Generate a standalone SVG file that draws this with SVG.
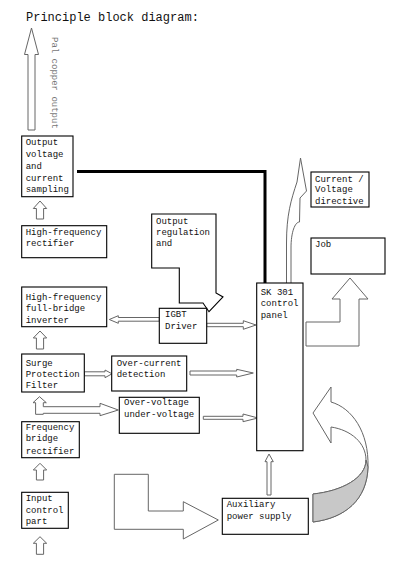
<svg xmlns="http://www.w3.org/2000/svg" width="403" height="567" viewBox="0 0 403 567">
<style>
.box{fill:#fff;stroke:#000;stroke-width:1.1}
.t{font-family:"Liberation Mono","Courier New",monospace;font-size:9px;fill:#111}
.title{font-family:"Liberation Mono","Courier New",monospace;font-size:12px;fill:#111}
.side{font-family:"Liberation Mono","Courier New",monospace;font-size:9px;fill:#777}
.ha{fill:#fff;stroke:#666;stroke-width:1}
.thick{fill:none;stroke:#000;stroke-width:3}
</style>
<rect width="403" height="567" fill="#fff"/>
<text class="title" x="26" y="21">Principle block diagram:</text>
<text class="side" transform="translate(52,37) rotate(90)">Pal copper output</text>

<g id="connectors">
  <polyline class="thick" points="77,171.5 265,171.5 265,283"/>
  <!-- vertical hollow arrows -->
  <path class="ha" d="M28,130 L28,54.5 L24.5,54.5 L31.5,28 L38.5,54.5 L35,54.5 L35,130 Z"/>
  <path class="ha" d="M36.4,219 L36.4,208.5 L33.3,208.5 L40,201 L46.7,208.5 L43.6,208.5 L43.6,219 Z"/>
  <path class="ha" d="M36.4,349 L36.4,338 L33.3,338 L40,331 L46.7,338 L43.6,338 L43.6,349 Z"/>
  <path class="ha" d="M35.6,414.3 L35.6,402.7 L33,402.7 L39.5,396.7 L46.3,402.7 L43.3,402.7 L43.3,406.7 L100,406.7 L100,403.3 L118.3,410 L100,415.7 L100,413.3 L43.3,413.3 L43.3,414.3 Z"/>
  <path class="ha" d="M36.4,480 L36.4,470 L33.3,470 L40,463.3 L46.7,470 L43.6,470 L43.6,480 Z"/>
  <path class="ha" d="M36.4,554.3 L36.4,543.3 L33.3,543.3 L40,536.7 L46.7,543.3 L43.6,543.3 L43.6,554.3 Z"/>
  <path class="ha" d="M267,495 L267,461.7 L265,461.7 L269,454 L273.3,461.7 L271,461.7 L271,495 Z"/>
  <!-- horizontal hollow arrows -->
  <path class="ha" d="M84.3,371.8 L105,371.8 L105,370 L112,373.8 L105,377.7 L105,375.8 L84.3,375.8 Z"/>
  <path class="ha" d="M190,371 L236.7,371 L236.7,369.3 L253.3,373 L236.7,377 L236.7,375 L190,375 Z"/>
  <path class="ha" d="M203.3,416.3 L243,416.3 L243,414 L258,418 L243,421.7 L243,419.3 L203.3,419.3 Z"/>
  <path class="ha" d="M206.7,323.3 L243.3,323.3 L243.3,320.7 L256,325 L243.3,329.3 L243.3,326.7 L206.7,326.7 Z"/>
  <path class="ha" d="M159.3,317.5 L118.3,317.5 L118.3,315.7 L109.3,319.5 L118.3,323.3 L118.3,321.2 L159.3,321.2 Z"/>
  <!-- curved arrow from panel to current/voltage directive -->
  <path class="ha" d="M286.5,283 L286.5,243 C286.5,215 291,200 297,182 L300.5,158 L306.5,191 L300,198 L299.5,222 C295,222 291,232 291,248 L291,283"/>
  <!-- L arrow panel to Job -->
  <path class="ha" d="M306,322 L340,322 L340,299 L332,299 L350,278 L368,299 L359,299 L359,346 L306,346 Z"/>
  <!-- big L arrow to auxiliary -->
  <path class="ha" d="M114.3,474.3 L148.3,474.3 L148.3,511 L183.3,511 L183.3,501.7 L218.3,520 L183.3,539 L183.3,529.3 L114.3,529.3 Z"/>
  <!-- curved return arrow -->
  <path class="ha" d="M313,413 L331,387 L331,402 C352,408 369,432 368,467 C367,500 345,518 313,522 L313,494 C342,491 366,478 366,460 C366,443 351,430 331,427 L331,443 Z"/>
  <path d="M366,460 C366,478 342,491 313,494 L313,522 C345,518 367,500 368,467 Z" fill="#c8c8c8" stroke="#666" stroke-width="1"/>
</g>

<g id="output-sampling">
  <rect class="box" x="21.7" y="136" width="51.3" height="60.7"/>
  <text class="t" x="25.7" y="145.3">Output</text>
  <text class="t" x="25.7" y="157">voltage</text>
  <text class="t" x="25.7" y="168.8">and</text>
  <text class="t" x="25.7" y="180.6">current</text>
  <text class="t" x="25.7" y="192.4">sampling</text>
</g>
<g id="hf-rectifier">
  <rect class="box" x="21.7" y="225.7" width="85" height="32"/>
  <text class="t" x="25.7" y="234.5">High-frequency</text>
  <text class="t" x="25.7" y="246">rectifier</text>
</g>
<g id="hf-inverter">
  <rect class="box" x="21.7" y="287" width="85" height="39.7"/>
  <text class="t" x="25.7" y="299.5">High-frequency</text>
  <text class="t" x="25.7" y="311">full-bridge</text>
  <text class="t" x="25.7" y="322.5">inverter</text>
</g>
<g id="surge">
  <rect class="box" x="21.7" y="354" width="62.6" height="38"/>
  <text class="t" x="25.7" y="365.5">Surge</text>
  <text class="t" x="25.7" y="376.8">Protection</text>
  <text class="t" x="25.7" y="388">Filter</text>
</g>
<g id="freq-bridge">
  <rect class="box" x="21.7" y="421.7" width="57.6" height="36"/>
  <text class="t" x="25.7" y="429.5">Frequency</text>
  <text class="t" x="25.7" y="441">bridge</text>
  <text class="t" x="25.7" y="453.5">rectifier</text>
</g>
<g id="input-control">
  <rect class="box" x="21.7" y="492.3" width="46.6" height="36"/>
  <text class="t" x="25.7" y="500.5">Input</text>
  <text class="t" x="25.7" y="512.5">control</text>
  <text class="t" x="25.7" y="524.3">part</text>
</g>
<g id="output-regulation">
  <path class="box" d="M151.7,214 L216,214 L216,293 L223,297 L209,311.7 L203,303 L179.3,303 L179.3,268 L151.7,268 Z"/>
  <text class="t" x="156" y="224">Output</text>
  <text class="t" x="156" y="235">regulation</text>
  <text class="t" x="156" y="246">and</text>
</g>
<g id="igbt-driver">
  <rect class="box" x="159.3" y="308.3" width="47.4" height="35"/>
  <text class="t" x="165" y="316.7">IGBT</text>
  <text class="t" x="165" y="329">Driver</text>
</g>
<g id="over-current">
  <rect class="box" x="111.7" y="356" width="75" height="35"/>
  <text class="t" x="116.7" y="365.7">Over-current</text>
  <text class="t" x="116.7" y="376.7">detection</text>
</g>
<g id="over-voltage">
  <rect class="box" x="119.3" y="397.3" width="80" height="36"/>
  <text class="t" x="124" y="405.3">Over-voltage</text>
  <text class="t" x="124" y="417">under-voltage</text>
</g>
<g id="control-panel">
  <rect class="box" x="256.7" y="283" width="46.3" height="167.7"/>
  <text class="t" x="260.7" y="294.5">SK 301</text>
  <text class="t" x="260.7" y="306">control</text>
  <text class="t" x="260.7" y="317.5">panel</text>
</g>
<g id="current-voltage">
  <rect class="box" x="311" y="172" width="58" height="35"/>
  <text class="t" x="315" y="181.5">Current /</text>
  <text class="t" x="315" y="192">Voltage</text>
  <text class="t" x="315" y="204">directive</text>
</g>
<g id="job">
  <rect class="box" x="311" y="238" width="74" height="36"/>
  <text class="t" x="315" y="246.5">Job</text>
</g>
<g id="auxiliary">
  <rect class="box" x="222.3" y="498.3" width="86" height="36"/>
  <text class="t" x="226.7" y="507">Auxiliary</text>
  <text class="t" x="226.7" y="518.5">power supply</text>
</g>
</svg>
